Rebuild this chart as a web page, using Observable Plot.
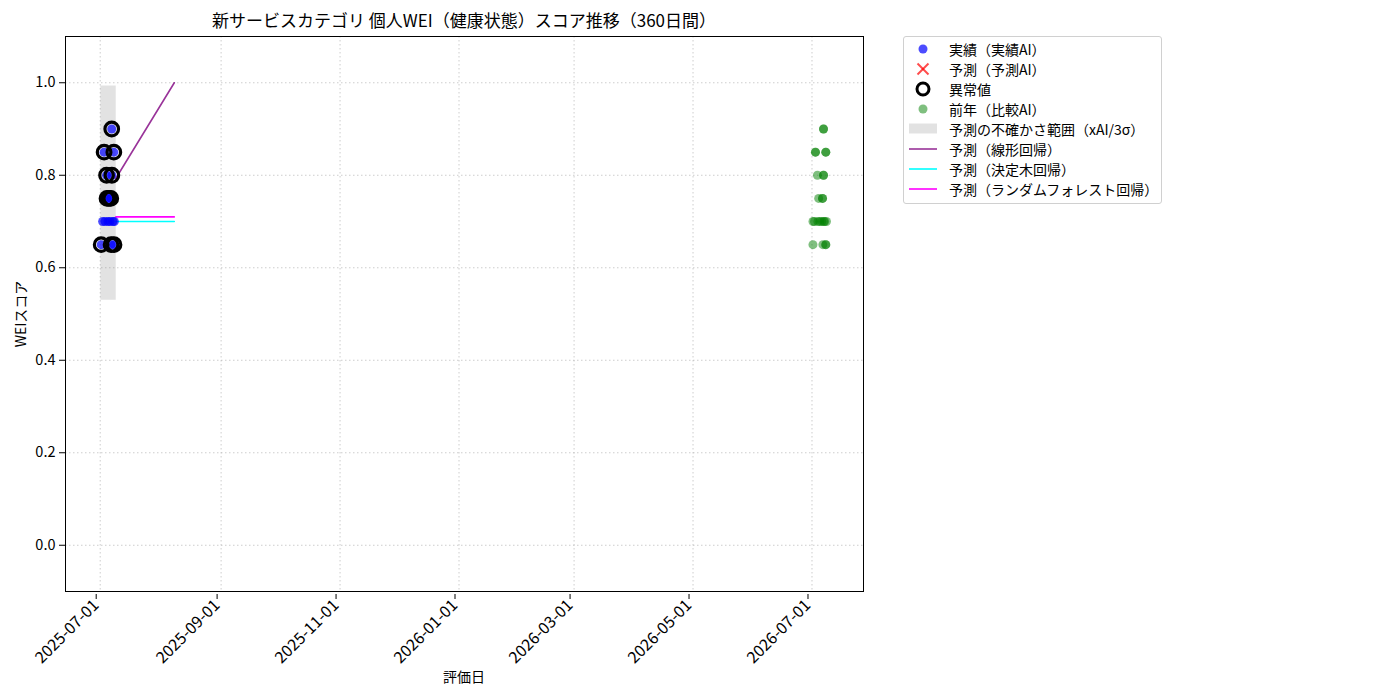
<!DOCTYPE html>
<html>
<head>
<meta charset="utf-8">
<script src="https://cdn.jsdelivr.net/npm/d3@7"></script>
<script src="https://cdn.jsdelivr.net/npm/@observablehq/plot@0.6"></script>
<style>
  body { margin: 0; background: white; font-family: "Noto Sans CJK JP", "Noto Sans", sans-serif; }
  #wrap { position: relative; width: 1400px; height: 700px; }
  #chart { position: absolute; left: 0; top: 0; }
  .title { position: absolute; left: 64px; width: 800px; top: 8px; text-align: center; font-size: 17px; line-height: 24px; color: #000; }
  .xlabel { position: absolute; left: 364px; width: 200px; top: 666px; text-align: center; font-size: 14px; line-height: 20px; }
  .ylabel { position: absolute; left: 20px; top: 314px; font-size: 14px; transform: translate(-50%, -50%) rotate(-90deg); white-space: nowrap; }
  .legend { position: absolute; left: 903px; top: 36px; width: 257px; height: 166px; border: 1px solid #d0d0d0; border-radius: 3px; background: white; }
  .legend .row { position: absolute; left: 0; height: 20px; width: 100%; }
  .legend svg { position: absolute; left: 4px; top: 0; }
  .legend span { position: absolute; left: 45px; top: 0; font-size: 14px; line-height: 20px; white-space: nowrap; color: #000; }
</style>
</head>
<body>
<div id="wrap">
  <div id="chart"></div>
  <div class="title">新サービスカテゴリ 個人WEI（健康状態）スコア推移（360日間）</div>
  <div class="xlabel">評価日</div>
  <div class="ylabel">WEIスコア</div>
  <div class="legend" id="legend"></div>
</div>
<script>
// ---- data ----
const actualDates = ["2025-07-01T12:00","2025-07-02T06:00","2025-07-03T00:00","2025-07-03T12:00","2025-07-04T06:00","2025-07-04T12:00","2025-07-05T00:00","2025-07-05T12:00","2025-07-06T00:00","2025-07-06T10:00","2025-07-06T14:00","2025-07-06T22:00","2025-07-07T00:00","2025-07-07T12:00","2025-07-08T00:00","2025-07-08T02:00","2025-07-08T06:00"];
const actualValues = [0.65,0.70,0.85,0.70,0.80,0.75,0.70,0.75,0.70,0.75,0.65,0.90,0.80,0.70,0.85,0.65,0.70];

const anomalyDates = ["2025-07-01T12:00","2025-07-03T00:00","2025-07-04T06:00","2025-07-04T12:00","2025-07-05T12:00","2025-07-06T10:00","2025-07-06T14:00","2025-07-06T22:00","2025-07-07T00:00","2025-07-08T00:00","2025-07-08T02:00"];
const anomalyValues = [0.65,0.85,0.80,0.75,0.75,0.75,0.65,0.90,0.80,0.85,0.65];

const prevDates = ["2026-07-01T12:00","2026-07-01T12:00","2026-07-02T06:00","2026-07-02T19:00","2026-07-02T19:00","2026-07-03T19:00","2026-07-04T00:00","2026-07-04T10:00","2026-07-05T00:00","2026-07-06T00:00","2026-07-06T10:00","2026-07-06T10:00","2026-07-06T14:00","2026-07-06T22:00","2026-07-06T22:00","2026-07-06T22:00","2026-07-06T22:00","2026-07-07T00:00","2026-07-07T12:00","2026-07-08T02:00","2026-07-08T02:00","2026-07-08T02:00","2026-07-08T02:00","2026-07-08T10:00"];
const prevValues = [0.65,0.70,0.70,0.85,0.85,0.80,0.70,0.75,0.70,0.70,0.75,0.75,0.65,0.90,0.90,0.80,0.80,0.70,0.70,0.85,0.85,0.65,0.65,0.70];

const predDates = ["2025-07-09T00:00","2025-08-08T00:00"];
const linearValues = [0.793, 1.0];
const treeValues = [0.70, 0.70];
const forestValues = [0.71, 0.71];

const bandDates = ["2025-07-01T08:00","2025-07-09T05:00"];
const bandLower = [0.53, 0.53];
const bandUpper = [0.993, 0.993];

const xTickLabels = ["2025-07-01","2025-09-01","2025-11-01","2026-01-01","2026-03-01","2026-05-01","2026-07-01"];
const yTickValues = [0.0, 0.2, 0.4, 0.6, 0.8, 1.0];

// ---- build tables ----
const pd = s => new Date(s + (s.length <= 10 ? "T00:00Z" : "Z"));
const actual = actualDates.map((d, i) => ({date: pd(d), v: actualValues[i]}));
const anomalies = anomalyDates.map((d, i) => ({date: pd(d), v: anomalyValues[i]}));
const prev = prevDates.map((d, i) => ({date: pd(d), v: prevValues[i]}));
const pred = predDates.map((d, i) => ({date: pd(d), linear: linearValues[i], tree: treeValues[i], forest: forestValues[i]}));
const band = bandDates.map((d, i) => ({date: pd(d), lo: bandLower[i], hi: bandUpper[i]}));
const xTicks = xTickLabels.map(pd);

const gridStyle = {stroke: "#b0b0b0", strokeOpacity: 0.8, strokeDasharray: "1.5,2.5", strokeWidth: 0.8};

const chart = Plot.plot({
  width: 1400, height: 700,
  marginLeft: 65, marginRight: 537, marginTop: 36, marginBottom: 109,
  style: {fontFamily: "'Noto Sans CJK JP', 'Noto Sans', sans-serif", fontSize: "14px", color: "black", background: "white", overflow: "visible"},
  x: {type: "utc", domain: [pd("2025-06-13T05:00"), pd("2026-07-27T10:00")]},
  y: {domain: [-0.1, 1.1]},
  marks: [
    Plot.gridX(xTicks, gridStyle),
    Plot.gridY(yTickValues, gridStyle),
    Plot.areaY(band, {x: "date", y1: "lo", y2: "hi", fill: "gray", fillOpacity: 0.23, curve: "step-after"}),
    Plot.line(pred, {x: "date", y: "linear", stroke: "purple", strokeOpacity: 0.8, strokeWidth: 1.6}),
    Plot.line(pred, {x: "date", y: "tree", stroke: "cyan", strokeWidth: 1.6}),
    Plot.line(pred, {x: "date", y: "forest", stroke: "magenta", strokeWidth: 1.6}),
    Plot.dot(actual, {x: "date", y: "v", r: 4.5, fill: "blue", fillOpacity: 0.7, stroke: null}),
    Plot.dot(anomalies, {x: "date", y: "v", r: 6.8, stroke: "black", strokeWidth: 3.2, fill: "none"}),
    Plot.dot(prev, {x: "date", y: "v", r: 4.5, fill: "green", fillOpacity: 0.5, stroke: null}),
    Plot.frame({stroke: "black", strokeWidth: 1}),
    Plot.axisX(xTicks, {tickFormat: d3.utcFormat("%Y-%m-%d"), tickRotate: -45, tickSize: 5, tickPadding: 3, label: null, fontSize: 16, dx: -4, dy: 3}),
    Plot.axisY(yTickValues, {tickFormat: d3.format(".1f"), tickSize: 6, tickPadding: 4, label: null, fontSize: 14.5})
  ]
});
document.getElementById("chart").appendChild(chart);

// ---- legend ----
const legendItems = [
  {label: "実績（実績AI）", kind: "dot", color: "blue", op: 0.7},
  {label: "予測（予測AI）", kind: "x", color: "red", op: 0.7},
  {label: "異常値", kind: "ring"},
  {label: "前年（比較AI）", kind: "dot", color: "green", op: 0.5},
  {label: "予測の不確かさ範囲（xAI/3σ）", kind: "patch"},
  {label: "予測（線形回帰）", kind: "line", color: "purple", op: 0.8},
  {label: "予測（決定木回帰）", kind: "line", color: "cyan", op: 1},
  {label: "予測（ランダムフォレスト回帰）", kind: "line", color: "magenta", op: 1}
];
const lg = document.getElementById("legend");
legendItems.forEach((it, i) => {
  const row = document.createElement("div");
  row.className = "row";
  row.style.top = (2 + i * 20) + "px";
  let sym = "";
  if (it.kind === "dot") sym = `<circle cx="15" cy="10" r="4.5" fill="${it.color}" fill-opacity="${it.op}"/>`;
  else if (it.kind === "x") sym = `<g stroke="${it.color}" stroke-opacity="${it.op}" stroke-width="2"><line x1="9.5" y1="4.5" x2="20.5" y2="15.5"/><line x1="9.5" y1="15.5" x2="20.5" y2="4.5"/></g>`;
  else if (it.kind === "ring") sym = `<circle cx="15" cy="10" r="6" fill="none" stroke="black" stroke-width="3"/>`;
  else if (it.kind === "patch") sym = `<rect x="1" y="4.5" width="28" height="10" fill="gray" fill-opacity="0.23"/>`;
  else sym = `<line x1="1" x2="29" y1="10" y2="10" stroke="${it.color}" stroke-opacity="${it.op}" stroke-width="1.6"/>`;
  row.innerHTML = `<svg width="32" height="20">${sym}</svg><span>${it.label}</span>`;
  lg.appendChild(row);
});
</script>
</body>
</html>
